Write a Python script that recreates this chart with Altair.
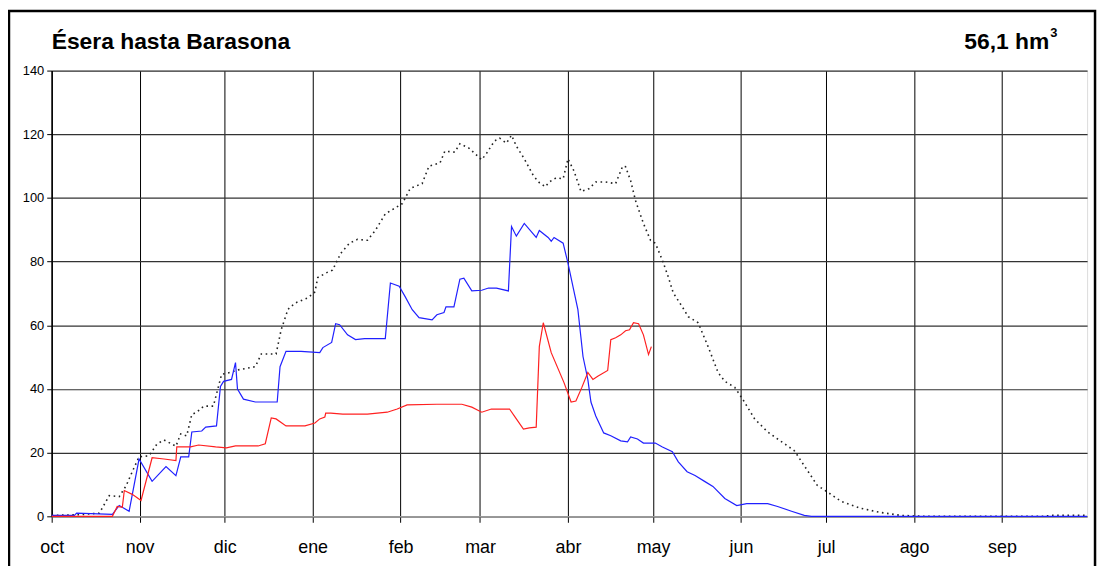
import json
import altair as alt
import pandas as pd

# ---------------- data ----------------
months = ["oct", "nov", "dic", "ene", "feb", "mar", "abr", "may", "jun", "jul", "ago", "sep"]
month_start_day = [0, 31, 61, 92, 123, 151, 182, 212, 243, 273, 304, 335]
y_ticks = [0, 20, 40, 60, 80, 100, 120, 140]

title_text = "Ésera hasta Barasona"
volume_text = "56,1 hm"
volume_exp = "3"

# black dotted series (day of hydrological year, hm3)
median_day = [0, 9.8, 16.8, 20.3, 23.8, 26.3, 28.4, 30.8, 34.3, 37.1, 39.6, 43.8, 45.5, 47.6, 49.4, 51.1,
              53.6, 57, 58.8, 59.9, 63, 65.8, 71.8, 73.9, 79.1, 80.9, 83.3, 85.8, 90.3, 92.8, 93.8, 97.3,
              99, 101.9, 105, 107.8, 111.3, 114.1, 117.6, 120.8, 123.6, 126.4, 130.6, 133, 136.9, 138.6,
              142.1, 143.9, 147, 151.6, 153.3, 156.1, 157.9, 160.3, 162.1, 163.8, 166.6, 169.8, 171.9,
              174, 175.4, 177.8, 180.3, 182, 184.1, 186.6, 189.4, 191.8, 195.3, 198.8, 201.3, 202.3,
              204.1, 205.8, 208.6, 211.1, 212.8, 215.3, 217.4, 219.1, 222.3, 224.4, 227.9, 231.4, 234.9,
              237.3, 240.8, 243.6, 247.8, 252.4, 258.3, 261.8, 265.3, 269.9, 273.7, 278.3, 285.3, 292.3,
              299.3, 307.3, 349.3, 352.8, 364.4]
median_val = [0.3, 0.5, 1, 6.5, 6.2, 9.7, 14, 18.7, 19, 22.7, 24, 22, 25.9, 25.3, 32, 32.7,
              34.6, 34.6, 40.8, 44.6, 45.2, 46, 47, 51, 51, 58.6, 65, 67, 68.6, 70.5, 75, 76.7,
              77.3, 82.6, 85.8, 87, 86.7, 89.8, 95, 96.7, 98.2, 103, 104.5, 110, 111, 114.7,
              114.4, 117, 115.7, 112, 114, 117.9, 118.8, 117.2, 119.7, 116.3, 112.3, 107, 104.8,
              103.5, 105, 106.3, 106, 112.3, 108.5, 102, 102.9, 105, 105, 104.5, 110, 109.8,
              105.4, 99.2, 92, 86.7, 85.8, 80.4, 75.1, 70.2, 65.8, 62.7, 60.8, 53.3, 45.2,
              42.4, 40.5, 36.8, 30.6, 26.5, 22.8, 20.6, 15.9, 9.7, 7.5, 4.7, 2.5, 1.2,
              0.3, 0, 0, 0.3, 0.3]

# blue series
blue_day = [0, 8, 8.8, 21.4, 23.8, 27.3, 30.8, 35.4, 40.3, 43.8, 45.5, 48.3, 49.4, 52.9, 54.3, 58.1,
            59.5, 60.6, 63.4, 64.8, 65.5, 67.6, 71.8, 79.5, 80.5, 82.6, 87.9, 94.5, 95.6, 98.7, 100.1,
            101.5, 104.3, 107.1, 110.3, 117.6, 119.4, 122.5, 124.6, 127.1, 129.5, 134.1, 135.8, 138.3,
            139, 141.8, 143.9, 145.3, 148.1, 151.6, 154, 156.8, 161, 162.1, 163.8, 166.6, 170.8, 171.9,
            175, 176.1, 177.1, 180.3, 182, 183.8, 185.5, 187.3, 189, 190.1, 191.8, 194.6, 197.1, 200.6,
            203, 204.1, 206.5, 208.6, 212.8, 215.3, 218.8, 220.9, 224, 226.8, 230.3, 233.1, 237.3,
            241.5, 245, 252.4, 255.9, 260.8, 265.3, 267.8, 365]
blue_val = [0.3, 0.3, 1, 0.6, 3.4, 1.6, 18, 11, 15.6, 12.8, 18.7, 18.7, 26.5, 26.8, 28, 28.4,
            40.8, 42.4, 43, 48.3, 40, 36.8, 35.9, 35.9, 47, 51.8, 51.8, 51.4, 53, 54.6, 60.5,
            60.2, 57, 55.5, 55.8, 55.8, 73.3, 72.3, 69, 64.9, 62.4, 61.7, 63.3, 64,
            65.8, 65.8, 74.5, 74.8, 70.8, 71, 71.7, 71.7, 70.8, 91, 88, 92, 87.6, 89.8,
            87.6, 86.4, 87.6, 85.8, 79.5, 72, 64.9, 50.2, 43, 35.9, 31.5, 26.2, 25.3, 23.7,
            23.4, 24.9, 24.3, 23, 23, 21.8, 20.3, 17.1, 14, 12.8, 10.9, 9.4, 5.6,
            3.4, 4, 4, 3.1, 1.6, 0.3, 0, 0]

# red series (current year)
red_day = [0, 21.4, 23.1, 24.9, 25.6, 28.4, 31.5, 35.4, 39.6, 43.8, 44.1, 49, 51.8, 57.8, 61.6, 64.8,
           72.8, 75.3, 77.4, 79.1, 82.6, 89.3, 92.8, 94.5, 96.3, 96.6, 98.4, 102.6, 111.3, 118.3, 121.8,
           125.3, 135.8, 144.6, 148.1, 151.6, 155, 161.4, 163.8, 166.3, 168.4, 170.8, 171.9, 173.3,
           176.1, 180.6, 183.1, 184.8, 186.9, 189, 190.8, 192.5, 196, 197.1, 198.8, 200.6, 202.3,
           203.7, 205.1, 206.9, 208.6, 210.4, 211.4]
red_val = [0, 0, 3.1, 2.8, 8.1, 6.9, 5, 18.4, 18, 17.5, 21.8, 21.8, 22.4, 21.8, 21.5, 22.1,
           22.1, 22.8, 30.9, 30.6, 28.4, 28.4, 29.3, 30.6, 31.2, 32.4, 32.4, 32.1, 32.1, 32.7, 33.7,
           35, 35.2, 35.2, 34.3, 32.7, 33.7, 33.7, 30.6, 27.4, 27.8, 28, 53.3, 60.8,
           51.4, 42, 35.9, 36.2, 40.5, 45.2, 43, 44, 45.8, 55.5, 56.1, 57, 58.3,
           58.6, 60.8, 60.5, 57, 50.8, 53.3]

# ---------------- chart ----------------
FONT = "Liberation Sans"
W, H = 1043, 449

df_med = pd.DataFrame({"d": median_day, "v": median_val})
df_blue = pd.DataFrame({"d": blue_day, "v": blue_val})
df_red = pd.DataFrame({"d": red_day, "v": red_val})

label_expr = "{}[indexof({}, datum.value)]".format(json.dumps(months), json.dumps(month_start_day))

x_enc = alt.X(
    "d:Q",
    scale=alt.Scale(domain=[0, 365], nice=False, zero=False),
    axis=alt.Axis(
        values=month_start_day, labelExpr=label_expr, title=None, grid=True,
        gridColor="#000000", gridOpacity=1, gridWidth=1,
        tickColor="#000000", tickSize=6, tickWidth=1,
        domainColor="#999999", domainWidth=1.5,
        labelFont=FONT, labelFontSize=18, labelColor="#000000", labelPadding=16,
        labelFlush=False, labelOverlap=False,
    ),
)
y_enc = alt.Y(
    "v:Q",
    scale=alt.Scale(domain=[0, 140], nice=False),
    axis=alt.Axis(
        values=y_ticks, title=None, grid=True,
        gridColor="#333333", gridOpacity=1, gridWidth=1.2,
        tickColor="#000000", tickSize=5, tickWidth=1,
        domainColor="#000000", domainWidth=1.5,
        labelFont=FONT, labelFontSize=13, labelColor="#000000", labelPadding=3,
    ),
)

med = alt.Chart(df_med).mark_line(color="#222222", strokeWidth=1.6, strokeDash=[1.6, 3.6]).encode(x=x_enc, y=y_enc)
blue = alt.Chart(df_blue).mark_line(color="#2020ff", strokeWidth=1.2).encode(x="d:Q", y="v:Q")
red = alt.Chart(df_red).mark_line(color="#ff2020", strokeWidth=1.2).encode(x="d:Q", y="v:Q")

df_title = pd.DataFrame({"t": [title_text]})
df_vol = pd.DataFrame({"t": [volume_text]})
df_exp = pd.DataFrame({"t": [volume_exp]})

title_mark = alt.Chart(df_title).mark_text(
    align="left", baseline="alphabetic", font=FONT, fontSize=23, fontWeight="bold", color="#000000"
).encode(text="t:N", x=alt.value(0), y=alt.value(-22))

vol_mark = alt.Chart(df_vol).mark_text(
    align="right", baseline="alphabetic", font=FONT, fontSize=23, fontWeight="bold", color="#000000"
).encode(text="t:N", x=alt.value(1005), y=alt.value(-22))

exp_mark = alt.Chart(df_exp).mark_text(
    align="left", baseline="alphabetic", font=FONT, fontSize=13, fontWeight="bold", color="#000000"
).encode(text="t:N", x=alt.value(1006), y=alt.value(-34))

frame = alt.Chart(df_title).mark_rect(filled=False, stroke="#000000", strokeWidth=2.5).encode(
    x=alt.value(-43), x2=alt.value(1051), y=alt.value(-60), y2=alt.value(560)
)

chart = alt.layer(med, blue, red, title_mark, vol_mark, exp_mark, frame).properties(
    width=W,
    height=H,
    autosize=alt.AutoSizeParams(type="none"),
    padding={"left": 44, "top": 61, "right": 12, "bottom": 50},
).configure_view(stroke="#999999", strokeWidth=1.5).configure(background="white")

chart.save("out.html", embed_options={"renderer": "svg", "actions": False})
